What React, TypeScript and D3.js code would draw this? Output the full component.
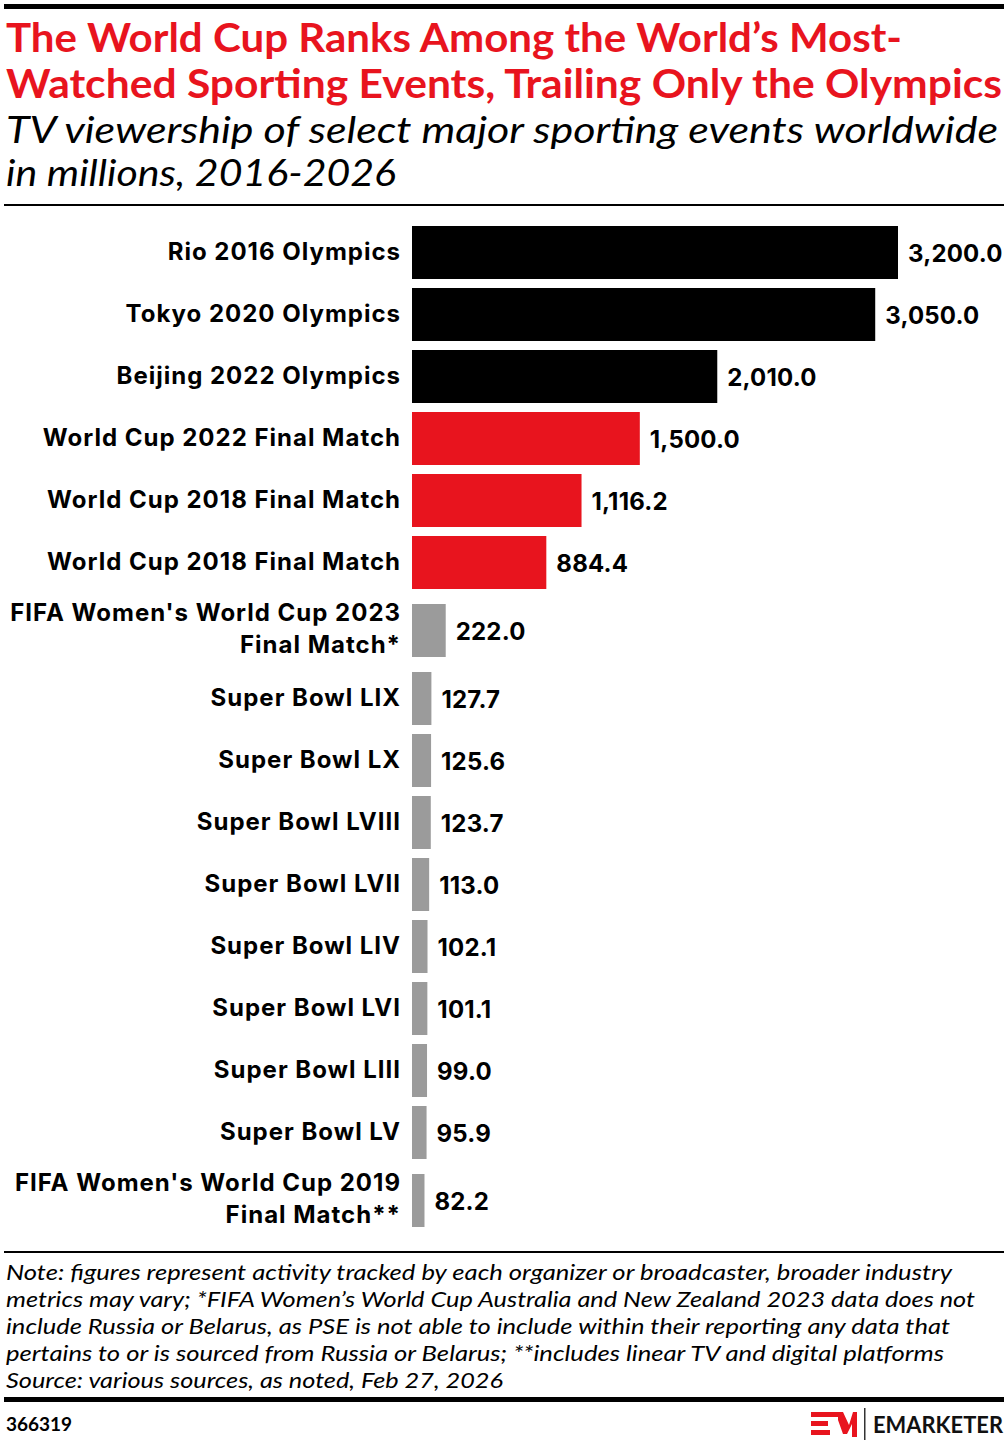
import React from "react";
import * as d3 from "d3";

const categories: string[][] = [
  ["Rio 2016 Olympics"],
  ["Tokyo 2020 Olympics"],
  ["Beijing 2022 Olympics"],
  ["World Cup 2022 Final Match"],
  ["World Cup 2018 Final Match"],
  ["World Cup 2018 Final Match"],
  ["FIFA Women's World Cup 2023", "Final Match*"],
  ["Super Bowl LIX"],
  ["Super Bowl LX"],
  ["Super Bowl LVIII"],
  ["Super Bowl LVII"],
  ["Super Bowl LIV"],
  ["Super Bowl LVI"],
  ["Super Bowl LIII"],
  ["Super Bowl LV"],
  ["FIFA Women's World Cup 2019", "Final Match**"],
];
const values: number[] = [3200.0, 3050.0, 2010.0, 1500.0, 1116.2, 884.4, 222.0, 127.7, 125.6, 123.7, 113.0, 102.1, 101.1, 99.0, 95.9, 82.2];
const groups: string[] = ["olympics", "olympics", "olympics", "worldcup", "worldcup", "worldcup", "other", "other", "other", "other", "other", "other", "other", "other", "other", "other"];

const titleLines = [
  "The World Cup Ranks Among the World\u2019s Most-",
  "Watched Sporting Events, Trailing Only the Olympics",
];
const subtitleLines = [
  "TV viewership of select major sporting events worldwide",
  "in millions, 2016-2026",
];
const noteLines = [
  "Note: figures represent activity tracked by each organizer or broadcaster, broader industry",
  "metrics may vary; *FIFA Women\u2019s World Cup Australia and New Zealand 2023 data does not",
  "include Russia or Belarus, as PSE is not able to include within their reporting any data that",
  "pertains to or is sourced from Russia or Belarus; **includes linear TV and digital platforms",
  "Source: various sources, as noted, Feb 27, 2026",
];
const chartId = "366319";

const RED = "#E8141E";
const colorScale = d3.scaleOrdinal<string, string>()
  .domain(["olympics", "worldcup", "other"])
  .range(["#000000", RED, "#9B9B9B"]);

const FONT = "Lato, 'Noto Sans', sans-serif";
const LABEL_FONT = "Inter, Lato, sans-serif";

export default function App() {
  const W = 1008;
  const H = 1446;
  const x = d3.scaleLinear().domain([0, 3200]).range([412, 898]);
  const fmt = d3.format(",.1f");

  // vertical layout: single-line rows take 62px, two-line rows 74px
  const slots = categories.map((c) => (c.length > 1 ? 74 : 62));
  const tops = d3.cumsum([221.5, ...slots]).slice(0, slots.length) as unknown as number[];
  const barH = 53;

  const titleWidths = [896, 996];
  const subWidths = [992, 390];
  const noteWidths = [946, 969, 944, 938, 497];

  const labelProps = { textAnchor: "end" as const, fontSize: 24, fontWeight: 700, fill: "#000", letterSpacing: 1.0 };

  return (
    <svg width={W} height={H} style={{ display: "block", position: "absolute", left: 0, top: 0 }} fontFamily={FONT}>
      <rect x={0} y={0} width={W} height={H} fill="#fff" />
      <rect x={4} y={4} width={1000} height={5} fill="#000" />
      {titleLines.map((t, i) => (
        <text key={t} x={6} y={52 + i * 45.5} fontSize={40} fontWeight={700} fill={RED}
          textLength={titleWidths[i]} lengthAdjust="spacingAndGlyphs">{t}</text>
      ))}
      {subtitleLines.map((t, i) => (
        <text key={t} x={6} y={143 + i * 43} fontSize={36} fontStyle="italic" fill="#000"
          textLength={subWidths[i]} lengthAdjust="spacingAndGlyphs">{t}</text>
      ))}
      <rect x={4} y={204} width={1000} height={2} fill="#000" />

      {values.map((v, i) => {
        const cy = tops[i] + slots[i] / 2;
        const lines = categories[i];
        return (
          <g key={i} fontFamily={LABEL_FONT}>
            <rect x={x(0)} y={cy - barH / 2} width={x(v) - x(0)} height={barH} fill={colorScale(groups[i])} />
            {lines.length === 1 ? (
              <text x={401} y={cy + 7} {...labelProps}>{lines[0]}</text>
            ) : (
              lines.map((l, j) => (
                <text key={j} x={401} y={cy - 10 + j * 32} {...labelProps}>{l}</text>
              ))
            )}
            <text x={x(v) + 10} y={cy + 9} fontSize={24} fontWeight={700} fill="#000" letterSpacing={0.2}>{fmt(v)}</text>
          </g>
        );
      })}

      <rect x={4} y={1251} width={1000} height={2} fill="#000" />
      {noteLines.map((t, i) => (
        <text key={i} x={6} y={1280 + i * 27} fontSize={21} fontStyle="italic" fill="#000"
          textLength={noteWidths[i]} lengthAdjust="spacingAndGlyphs">{t}</text>
      ))}
      <rect x={4} y={1397} width={1000} height={5} fill="#000" />
      <text x={6} y={1431} fontSize={19} fontWeight={700} fill="#000">{chartId}</text>

      {/* logo */}
      <g fill={RED}>
        <rect x={811} y={1412} width={27} height={5} />
        <rect x={811} y={1421} width={17} height={5} />
        <rect x={811} y={1430} width={19} height={5} />
        <polygon points="838,1412 843,1412 849,1425 853,1412 857,1412 857,1437 852,1437 852,1424 847,1434 843,1434 838,1420" />
      </g>
      <rect x={864} y={1408} width={1.5} height={32} fill="#333" />
      <text x={873} y={1433} fontSize={22} fontWeight={700} fill="#111" textLength={130} lengthAdjust="spacingAndGlyphs">EMARKETER</text>
    </svg>
  );
}
